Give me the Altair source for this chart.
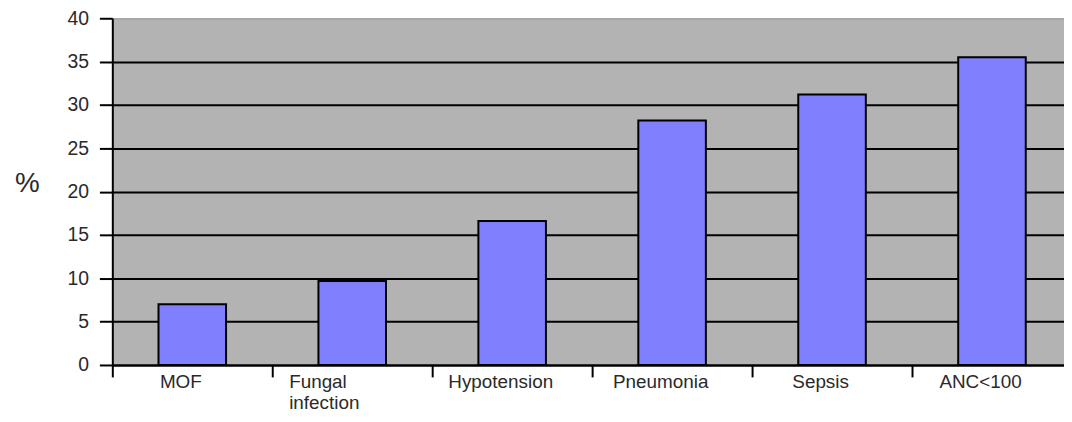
import altair as alt
import pandas as pd

categories = ["MOF", "Fungal infection", "Hypotension", "Pneumonia", "Sepsis", "ANC<100"]
values = [7.0, 9.7, 16.6, 28.2, 31.2, 35.5]
y_ticks = [0, 5, 10, 15, 20, 25, 30, 35, 40]

df = pd.DataFrame({"category": categories, "value": values})

FONT = "Liberation Sans"
FUNGAL = "datum.value === 'Fungal infection'"

x_axis = alt.Axis(
    title=None,
    labelAngle=0,
    labelFont=FONT,
    labelFontSize=19,
    labelColor="#2a2a2a",
    labelBaseline="top",
    labelPadding=-4,
    labelLineHeight=21,
    labelExpr="split(datum.label, ' ')",
    labelAlign={"condition": {"test": FUNGAL, "value": "left"}, "value": "center"},
    labelOffset={"condition": {"test": FUNGAL, "value": -64}, "value": -12},
    tickBand="extent",
    tickColor="black",
    tickSize=12,
    tickWidth=2,
    domainColor="black",
    domainWidth=2,
    grid=False,
)

y_axis = alt.Axis(
    title="%",
    titleAngle=0,
    titleFont=FONT,
    titleFontSize=28,
    titleFontWeight="normal",
    titleColor="#2a2a2a",
    titleAlign="center",
    titleBaseline="middle",
    titleX=-86,
    titleY=166,
    values=y_ticks,
    labelFont=FONT,
    labelFontSize=19.5,
    labelColor="#2a2a2a",
    labelPadding=11,
    tickColor="black",
    tickSize=13,
    tickWidth=2,
    domainColor="black",
    domainWidth=2,
    grid=True,
    gridColor="black",
    gridWidth=2,
    gridOpacity={"condition": {"test": "datum.value === 40", "value": 0}, "value": 1},
)

chart = (
    alt.Chart(df)
    .mark_bar(color="#8080ff", stroke="black", strokeWidth=2, width=68)
    .encode(
        x=alt.X(
            "category:N",
            sort=categories,
            scale=alt.Scale(range=[0, 966], paddingInner=0, paddingOuter=0),
            axis=x_axis,
        ),
        y=alt.Y(
            "value:Q",
            scale=alt.Scale(domain=[0, 40], nice=False),
            axis=y_axis,
        ),
    )
    .properties(
        width=958,
        height=349,
        autosize=alt.AutoSizeParams(type="none"),
        padding={"left": 105, "top": 9, "right": 0, "bottom": 46},
        background="white",
    )
    .configure_view(fill="#b3b3b3", stroke="#8c8c8c", strokeWidth=1)
)

chart.save("out.html", embed_options={"renderer": "svg", "actions": False})
